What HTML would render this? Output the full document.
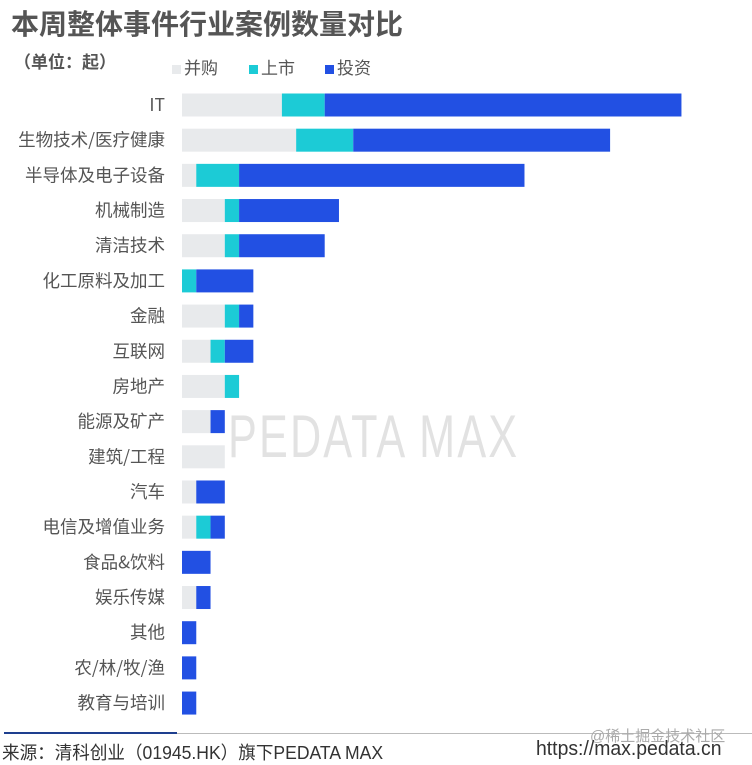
<!DOCTYPE html>
<html><head><meta charset="utf-8"><style>
body{margin:0;background:#fff;width:752px;height:765px;overflow:hidden;position:relative;font-family:"Liberation Sans","Noto Sans CJK SC",sans-serif;}
.t{position:absolute;white-space:nowrap;}
</style></head><body>
<div class="t" style="left:11px;top:3px;font-size:28px;font-weight:bold;color:#555;">本周整体事件行业案例数量对比</div>
<div class="t" style="left:14px;top:48px;font-size:17px;font-weight:bold;color:#555;">（单位：起）</div>
<div style="position:absolute;left:172px;top:54px;font-size:17px;color:#555;">
 <span style="position:absolute;left:0;top:0;white-space:nowrap;"><span style="display:inline-block;width:9px;height:9px;background:#e8eaec;margin-right:3px;"></span>并购</span>
 <span style="position:absolute;left:77px;top:0;white-space:nowrap;"><span style="display:inline-block;width:9px;height:9px;background:#1ccbd6;margin-right:3px;"></span>上市</span>
 <span style="position:absolute;left:153px;top:0;white-space:nowrap;"><span style="display:inline-block;width:9px;height:9px;background:#2250e3;margin-right:3px;"></span>投资</span>
</div>
<div class="t" style="left:228px;top:402px;font-size:60px;color:rgba(160,160,160,0.3);letter-spacing:3px;transform:scaleX(0.72);transform-origin:left top;">PEDATA MAX</div>
<svg id="chart" width="752" height="765" style="position:absolute;left:0;top:0;"></svg>
<div style="position:absolute;left:4px;top:732px;width:173px;height:2px;background:#1e3f8f;"></div>
<div style="position:absolute;left:177px;top:733px;width:575px;height:1px;background:#bbb;"></div>
<div class="t" style="left:2px;top:739px;font-size:18px;color:#333;transform:scaleX(0.976);transform-origin:left top;">来源：清科创业（01945.HK）旗下PEDATA MAX</div>
<div class="t" style="left:590px;top:725px;font-size:15px;color:#aaa;">@稀土掘金技术社区</div>
<div class="t" style="left:536px;top:738px;font-size:20px;color:#333;transform:scaleX(0.97);transform-origin:left top;">https://max.pedata.cn</div>
<script>
const categories=["IT","生物技术/医疗健康","半导体及电子设备","机械制造","清洁技术","化工原料及加工","金融","互联网","房地产","能源及矿产","建筑/工程","汽车","电信及增值业务","食品&饮料","娱乐传媒","其他","农/林/牧/渔","教育与培训"];
const mergers=[7,8,1,3,3,0,3,2,3,2,3,1,1,0,1,0,0,0];
const ipos=[3,4,3,1,1,1,1,1,1,0,0,0,1,0,0,0,0,0];
const investments=[25,18,20,7,6,4,1,2,0,1,0,2,1,2,1,1,1,1];
const NS="http://www.w3.org/2000/svg";
const svg=document.getElementById('chart');
const x0=182,unit=14.27,y0=105,step=35.18,bh=23;
const xs=v=>x0+v*unit;
const yc=i=>y0+i*step;
const series=[[mergers,"#e8eaec","merger"],[ipos,"#1ccbd6","ipo"],[investments,"#2250e3","investment"]];
categories.forEach((c,i)=>{
 const t=document.createElementNS(NS,'text');
 
 
 t.setAttribute('x',165);t.setAttribute('y',yc(i)+6);
 t.setAttribute('text-anchor','end');t.setAttribute('font-size','17.5');t.setAttribute('fill','#555');
 t.setAttribute('font-family','"Noto Sans CJK SC","Liberation Sans",sans-serif');
 t.textContent=c;svg.appendChild(t);
 let acc=0;
 series.forEach(([arr,col,nm])=>{
  const v=arr[i];if(v<=0)return;
  const r=document.createElementNS(NS,'rect');
  
  
  r.setAttribute('x',xs(acc));r.setAttribute('y',yc(i)-bh/2);
  r.setAttribute('width',xs(acc+v)-xs(acc));r.setAttribute('height',bh);
  r.setAttribute('fill',col);svg.appendChild(r);acc+=v;
 });
});
</script>
</body></html>
